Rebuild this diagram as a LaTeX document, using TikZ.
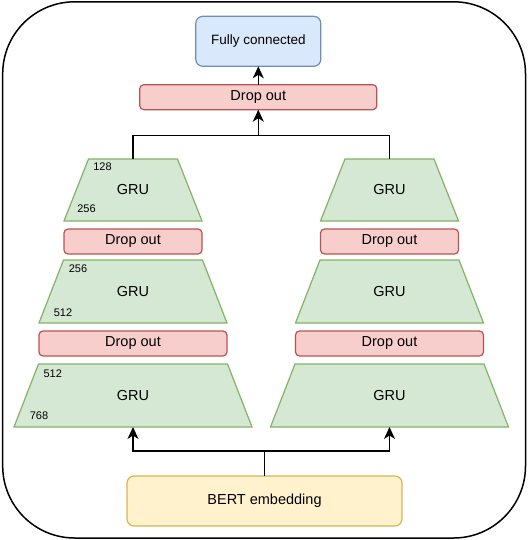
\documentclass[tikz,border=0pt]{standalone}
\usepackage{fontspec}
\setmainfont{Liberation Sans}
\usetikzlibrary{arrows.meta}
\definecolor{gfill}{HTML}{D5E8D4}\definecolor{gline}{HTML}{82B366}
\definecolor{rfill}{HTML}{F8CECC}\definecolor{rline}{HTML}{B85450}
\definecolor{bfill}{HTML}{DAE8FC}\definecolor{bline}{HTML}{6C8EBF}
\definecolor{yfill}{HTML}{FFF2CC}\definecolor{yline}{HTML}{D6B656}
\tikzset{
  gtrap/.style={draw=gline, fill=gfill, line width=1.2pt, line join=miter},
  grutext/.style={rectangle, inner sep=0pt, outer sep=0pt, font=\fontsize{14.5}{16}\selectfont},
  dropbox/.style={rectangle, rounded corners=4pt, draw=rline, fill=rfill, line width=1.2pt,
    inner sep=0pt, outer sep=0pt, minimum height=25pt, font=\fontsize{14.5}{16}\selectfont},
  fcbox/.style={rectangle, rounded corners=7pt, draw=bline, fill=bfill, line width=1.2pt,
    inner sep=0pt, outer sep=0pt, minimum width=125pt, minimum height=50pt, font=\fontsize{13.5}{16}\selectfont},
  bertbox/.style={rectangle, rounded corners=7pt, draw=yline, fill=yfill, line width=1.2pt,
    inner sep=0pt, outer sep=0pt, minimum width=275pt, minimum height=50pt, font=\fontsize{14.5}{16}\selectfont},
  dimlabel/.style={inner sep=0pt, font=\fontsize{11}{12}\selectfont},
  conn/.style={line width=1.3pt, draw=black},
  arr/.style={conn, -{Stealth[length=12pt,width=11pt,inset=3.5pt]}}
}
% #1 name, #2 cx, #3 cy, #4 bottom width, #5 height
\newcommand\grunode[5]{%
  \path[gtrap] ({#2-#4/2},{#3+#5/2}) -- ({#2-#4/2+24.5},{#3-#5/2})
     -- ({#2+#4/2-24.5},{#3-#5/2}) -- ({#2+#4/2},{#3+#5/2}) -- cycle;
  \node[grutext, minimum width=#4pt, minimum height=#5pt] (#1) at (#2,#3) {GRU};}
\begin{document}
\begin{tikzpicture}[x=1pt,y=-1pt]
\useasboundingbox (0,0) rectangle (528,540);
\draw[line width=1.5pt, rounded corners=72pt] (2.7,1.8) rectangle (525.5,538);

% top
\node[fcbox] (fc) at (258.3,41.3) {Fully connected};
\node[dropbox, minimum width=237pt] (do3) at (258.3,97.2) {Drop out};

% left column
\grunode{gL3}{133}{190}{138}{62}
\node[dropbox, minimum width=138pt] (dL2) at (133,241.5) {Drop out};
\grunode{gL2}{133}{291.5}{188}{63}
\node[dropbox, minimum width=188pt] (dL1) at (133,343.5) {Drop out};
\grunode{gL1}{133}{395.5}{238}{63}

% right column
\grunode{gR3}{389.5}{190}{138}{62}
\node[dropbox, minimum width=138pt] (dR2) at (389.5,241.5) {Drop out};
\grunode{gR2}{389.5}{291.5}{188}{63}
\node[dropbox, minimum width=188pt] (dR1) at (389.5,343.5) {Drop out};
\grunode{gR1}{389.5}{395.5}{238}{63}

% dimension labels
\node[dimlabel] (n128) at (102.5,166.7) {128};
\node[dimlabel] (n256a) at (86.5,208.3) {256};
\node[dimlabel] (n256b) at (78,269) {256};
\node[dimlabel] (n512a) at (63,312.3) {512};
\node[dimlabel] (n512b) at (52.7,374) {512};
\node[dimlabel] (n768) at (39,416) {768};

% bottom
\node[bertbox] (bert) at (264.5,501) {BERT embedding};

% connectors top
\coordinate (jt) at (258.3,135.2);
\draw[conn] (gL3.north) -- (gL3.north |- jt) -- (gR3.north |- jt) -- (gR3.north);
\draw[arr] (jt) -- (do3.south);
\draw[arr] (do3.north) -- (fc.south);

% connectors bottom
\coordinate (jb) at (264.5,451);
\draw[conn] (bert.north) -- (jb);
\draw[arr] (jb) -| (gL1.south);
\draw[arr] (jb) -| (gR1.south);
\end{tikzpicture}
\end{document}
